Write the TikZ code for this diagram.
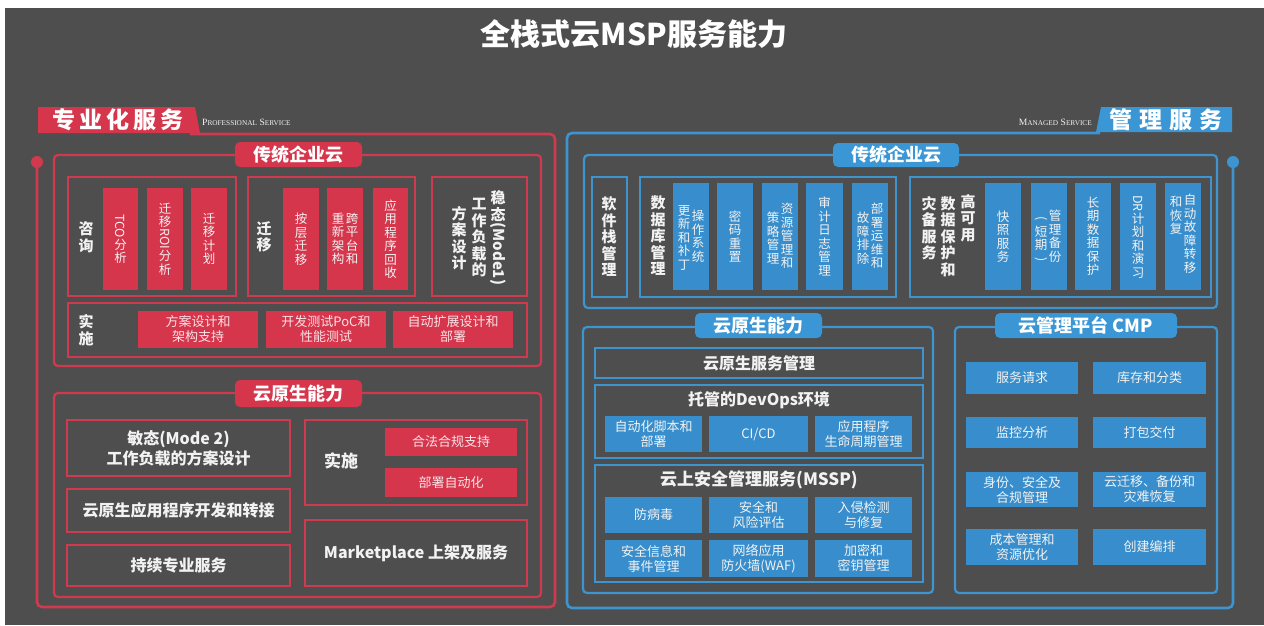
\documentclass[tikz,border=0pt]{standalone}
\usepackage{fontspec}
\usepackage{graphicx}
\setmainfont{Noto Sans CJK SC}
\newfontfamily\scfont{Liberation Serif}
\definecolor{bgc}{RGB}{78,78,78}
\definecolor{rmain}{RGB}{214,54,76}
\definecolor{rline}{RGB}{208,58,78}
\definecolor{bmain}{RGB}{58,150,212}
\definecolor{bline}{RGB}{62,148,206}
\definecolor{bcellc}{RGB}{56,142,204}
\definecolor{txt}{RGB}{242,242,242}
\definecolor{rtxt}{RGB}{250,226,230}
\newcommand\rl[1]{\rotatebox[origin=c]{-90}{#1}}
\newcommand\sck[2]{{\fontsize{9.6}{9.6}\selectfont #1}{\fontsize{7.3}{7.3}\selectfont #2}}
\newcommand\bx[7]{\node[#6, inner sep=0pt, outer sep=0pt, minimum width={#4-#2}, minimum height={#5-#3}] (#1) at ({(#2+#4)/2},{(#3+#5)/2}) {#7};}
\begin{document}
\begin{tikzpicture}[x=1pt,y=-1pt,
  rframe/.style={draw=rline, line width=2.2pt, rounded corners=4pt},
  bframe/.style={draw=bline, line width=2.2pt, rounded corners=4pt},
  rsub/.style={draw=rline, line width=1.6pt, text=txt, align=center},
  bsub/.style={draw=bline, line width=1.6pt, text=txt, align=center},
  rcell/.style={fill=rmain, text=rtxt, align=center},
  bcell/.style={fill=bcellc, text=txt, align=center},
  rhead/.style={fill=rmain, rounded corners=5pt, text=white, font=\bfseries\fontsize{18}{20}\selectfont},
  bhead/.style={fill=bmain, rounded corners=5pt, text=white, font=\bfseries\fontsize{18}{20}\selectfont},
  vt/.style={align=center, text=txt, inner sep=0pt, font=\fontsize{12.5}{13.5}\selectfont},
  vlab/.style={align=center, text=txt, inner sep=0pt, font=\bfseries\fontsize{15}{16.5}\selectfont},
  ht/.style={font=\fontsize{13}{15}\selectfont},
  big/.style={font=\bfseries\fontsize{16}{20}\selectfont, text=txt, align=center},
  bigt/.style={font=\bfseries\fontsize{17}{20}\selectfont, text=txt, align=center, inner sep=0pt}
]
\useasboundingbox (0,0) rectangle (1264,625);
\fill[white] (0,0) rectangle (1264,625);
\fill[bgc] (5,8) rectangle (1264,625);

\node[font=\bfseries\fontsize{30}{32}\selectfont, text=white] (title) at (634,34) {全栈式云MSP服务能力};

% ---------- left: professional service ----------
\draw[rline, line width=2.6pt, rounded corners=5pt] (37,162) -- (37,607) -- (555,607) -- (555,134) -- (190,134);
\fill[rline] (37,162) circle (6pt);
\fill[rmain] (38,107) -- (195,107) -- (200,133) -- (38,133) -- cycle;
\node[text=white, font=\bfseries\fontsize{23}{24}\selectfont, inner sep=0pt] (lbl) at (118,120) {专\hspace{4pt}业\hspace{4pt}化\hspace{4pt}服\hspace{4pt}务};
\node[anchor=base west, text=txt, inner sep=0pt] (ps) at (202,125) {\scfont\sck{P}{ROFESSIONAL} \sck{S}{ERVICE}};

\bx{lf1}{54}{155}{541}{366}{rframe}{}
\bx{lh1}{235}{142}{362}{167}{rhead}{传统企业云}

\bx{zx}{68}{177}{236}{296}{rsub}{}
\node[vlab] (zxt) at (86,237) {咨\\询};
\bx{c1}{103}{188}{138}{290}{rcell,vt}{\rl{TCO}\\分\\析}
\bx{c2}{147}{188}{183}{290}{rcell,vt}{迁\\移\\\rl{ROI}\\分\\析}
\bx{c3}{191}{188}{227}{290}{rcell,vt}{迁\\移\\计\\划}

\bx{qy}{248}{177}{415}{296}{rsub}{}
\node[vlab] (qyt) at (264,237) {迁\\移};
\bx{c4}{283}{188}{319}{290}{rcell,vt}{按\\层\\迁\\移}
\bx{c5}{327}{188}{363}{290}{rcell}{}
\node[vt] (c5a) at (352,239) {跨\\平\\台\\和};
\node[vt] (c5b) at (338,239) {重\\新\\架\\构};
\bx{c6}{373}{188}{408}{290}{rcell,vt}{应\\用\\程\\序\\回\\收}

\bx{wt}{432}{177}{527}{296}{rsub}{}
\node[vlab] (wt1) at (498,238) {稳\\态\\\rl{(Mode1)}};
\node[vlab] (wt2) at (479,238) {工\\作\\负\\载\\的};
\node[vlab] (wt3) at (459,238) {方\\案\\设\\计};

\bx{ss}{68}{303}{527}{357}{rsub}{}
\node[vlab] (sst) at (86,330) {实\\施};
\bx{c7}{138}{311}{258}{348}{rcell,ht}{方案设计和\\架构支持}
\bx{c8}{266}{311}{386}{348}{rcell,ht}{开发测试PoC和\\性能测试}
\bx{c9}{393}{311}{513}{348}{rcell,ht}{自动扩展设计和\\部署}

\bx{lf2}{54}{393}{541}{597}{rframe}{}
\bx{lh2}{235}{380}{362}{407}{rhead}{云原生能力}
\bx{m2}{67}{420}{290}{476}{rsub,big}{敏态(Mode 2)\\工作负载的方案设计}
\bx{m3}{67}{489}{290}{532}{rsub,big}{云原生应用程序开发和转接}
\bx{m4}{67}{545}{290}{586}{rsub,big}{持续专业服务}
\bx{m5}{305}{420}{527}{505}{rsub}{}
\node[bigt] (m5t) at (341,461) {实施};
\bx{c10}{385}{428}{517}{456}{rcell,ht}{合法合规支持}
\bx{c11}{385}{468}{517}{497}{rcell,ht}{部署自动化}
\bx{m6}{305}{520}{527}{586}{rsub,big}{Marketplace 上架及服务}

% ---------- right: managed service ----------
\draw[bline, line width=2.6pt, rounded corners=5pt] (1233,162) -- (1233,608) -- (567,608) -- (567,133) -- (1100,133);
\fill[bline] (1233,162) circle (6pt);
\fill[bmain] (1101,107) -- (1232,107) -- (1232,132) -- (1096,132) -- cycle;
\node[text=white, font=\bfseries\fontsize{23}{24}\selectfont, inner sep=0pt] (rlbl) at (1166,120) {管\hspace{7pt}理\hspace{7pt}服\hspace{7pt}务};
\node[anchor=base east, text=txt, inner sep=0pt] (ms) at (1092,125) {\scfont\sck{M}{ANAGED} \sck{S}{ERVICE}};

\bx{rf1}{584}{155}{1217}{308}{bframe}{}
\bx{rh1}{833}{143}{959}{167}{bhead}{传统企业云}

\bx{s1}{592}{177}{627}{297}{bsub}{}
\node[vlab] (s1t) at (609,237) {软\\件\\栈\\管\\理};
\bx{s2}{640}{177}{896}{297}{bsub}{}
\node[vlab] (s2t) at (658,236) {数\\据\\库\\管\\理};
\bx{d1}{673}{183}{709}{290}{bcell}{}
\node[vt] (d1a) at (698,236) {操\\作\\系\\统};
\node[vt] (d1b) at (684,238) {更\\新\\和\\补\\丁};
\bx{d2}{717}{183}{753}{290}{bcell,vt}{密\\码\\重\\置}
\bx{d3}{762}{183}{798}{290}{bcell}{}
\node[vt] (d3a) at (787,236) {资\\源\\管\\理\\和};
\node[vt] (d3b) at (773,238) {策\\略\\管\\理};
\bx{d4}{806}{183}{843}{290}{bcell,vt}{审\\计\\日\\志\\管\\理}
\bx{d5}{852}{183}{888}{290}{bcell}{}
\node[vt] (d5a) at (877,236) {部\\署\\运\\维\\和};
\node[vt] (d5b) at (863,238) {故\\障\\排\\除};

\bx{s3}{910}{177}{1211}{297}{bsub}{}
\node[vlab, anchor=north] (s3a) at (968,194) {高\\可\\用};
\node[vlab, anchor=north] (s3b) at (948,196) {数\\据\\保\\护\\和};
\node[vlab, anchor=north] (s3c) at (929,196) {灾\\备\\服\\务};
\bx{e1}{985}{183}{1021}{290}{bcell,vt}{快\\照\\服\\务}
\bx{e2}{1031}{183}{1067}{290}{bcell}{}
\node[vt] (e2a) at (1055,236) {管\\理\\备\\份};
\node[vt] (e2b) at (1041,240) {\rl{(}\\短\\期\\\rl{)}};
\bx{e3}{1075}{183}{1111}{290}{bcell,vt}{长\\期\\数\\据\\保\\护}
\bx{e4}{1120}{183}{1156}{290}{bcell,vt}{\rl{DR}\\计\\划\\和\\演\\习}
\bx{e5}{1165}{183}{1201}{290}{bcell}{}
\node[vt, anchor=north] (e5a) at (1190,194) {自\\动\\故\\障\\转\\移};
\node[vt, anchor=north] (e5b) at (1176,196) {和\\恢\\复};

\bx{rf2}{583}{327}{933}{593}{bframe}{}
\bx{rh2}{695}{313}{822}{338}{bhead}{云原生能力}
\bx{n1}{595}{348}{923}{378}{bsub,big}{云原生服务管理}
\bx{n2}{595}{385}{923}{458}{bsub}{}
\node[big, inner sep=0pt] (n2t) at (759,400) {托管的DevOps环境};
\bx{f1}{605}{416}{702}{452}{bcell,ht}{自动化脚本和\\部署}
\bx{f2}{709}{416}{808}{452}{bcell,ht}{CI/CD}
\bx{f3}{815}{416}{912}{452}{bcell,ht}{应用程序\\生命周期管理}
\bx{n3}{595}{465}{923}{582}{bsub}{}
\node[bigt] (n3t) at (759,480) {云上安全管理服务(MSSP)};
\bx{g1}{605}{497}{702}{533}{bcell,ht}{防病毒}
\bx{g2}{709}{497}{808}{533}{bcell,ht}{安全和\\风险评估}
\bx{g3}{815}{497}{912}{533}{bcell,ht}{入侵检测\\与修复}
\bx{g4}{605}{540}{702}{577}{bcell,ht}{安全信息和\\事件管理}
\bx{g5}{709}{540}{808}{577}{bcell,ht}{网络应用\\防火墙(WAF)}
\bx{g6}{815}{540}{912}{577}{bcell,ht}{加密和\\密钥管理}

\bx{rf3}{955}{327}{1217}{593}{bframe}{}
\bx{rh3}{995}{313}{1177}{338}{bhead}{云管理平台 CMP}
\bx{h1}{966}{362}{1078}{394}{bcell,ht}{服务请求}
\bx{h2}{1093}{362}{1206}{394}{bcell,ht}{库存和分类}
\bx{h3}{966}{417}{1078}{448}{bcell,ht}{监控分析}
\bx{h4}{1093}{417}{1206}{448}{bcell,ht}{打包交付}
\bx{h5}{966}{472}{1078}{507}{bcell,ht}{身份、安全及\\合规管理}
\bx{h6}{1093}{472}{1206}{507}{bcell,ht}{云迁移、备份和\\灾难恢复}
\bx{h7}{966}{529}{1078}{565}{bcell,ht}{成本管理和\\资源优化}
\bx{h8}{1093}{529}{1206}{565}{bcell,ht}{创建编排}
\end{tikzpicture}
\end{document}
